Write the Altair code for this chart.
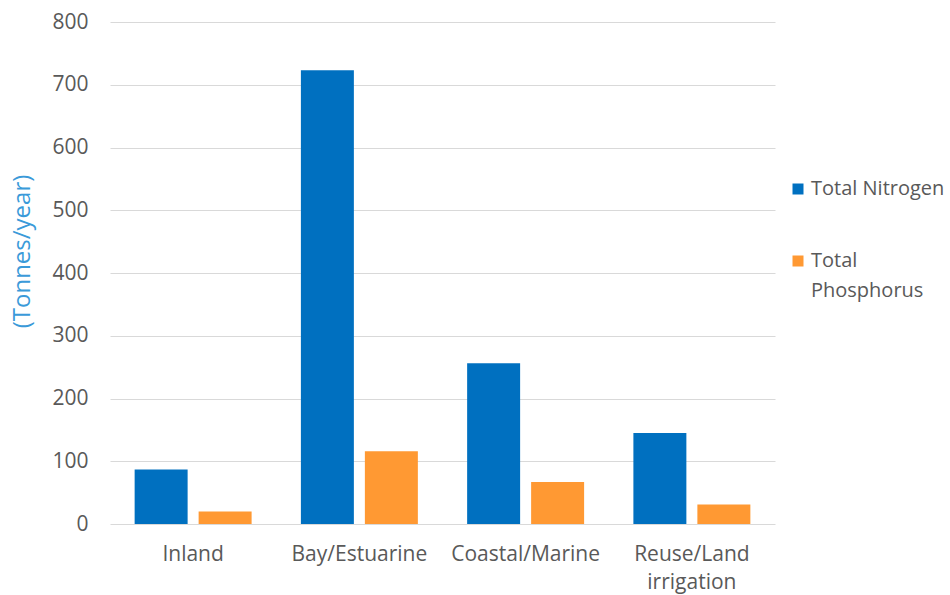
import altair as alt
import pandas as pd

# Annual nutrient loads by discharge destination
regions = ["Inland", "Bay/Estuarine", "Coastal/Marine", "Reuse/Land irrigation"]
nitrogen = [87, 723, 256, 145]
phosphorus = [20, 116, 67, 31]
series = ["Total Nitrogen", "Total Phosphorus"]
colors = ["#0070C0", "#FF9933"]
y_ticks = [0, 100, 200, 300, 400, 500, 600, 700, 800]

rows = []
for region, n, p in zip(regions, nitrogen, phosphorus):
    rows.append({"region": region, "series": series[0], "value": n})
    rows.append({"region": region, "series": series[1], "value": p})
df = pd.DataFrame(rows)

FONT = "Open Sans"
GREY = "#595959"
SIZE = 21

chart = (
    alt.Chart(df)
    .mark_bar()
    .encode(
        x=alt.X(
            "region:N",
            sort=regions,
            scale=alt.Scale(paddingInner=0, paddingOuter=0),
            axis=alt.Axis(
                title=None,
                labelAngle=0,
                domain=False,
                ticks=False,
                labelExpr="split(datum.label, ' ')",
                labelPadding=19,
                labelLineHeight=28,
                labelFontSize=SIZE,
                labelColor=GREY,
                labelFont=FONT,
            ),
        ),
        xOffset=alt.XOffset(
            "series:N",
            sort=series,
            scale=alt.Scale(paddingInner=0.172, paddingOuter=0.385),
        ),
        y=alt.Y(
            "value:Q",
            scale=alt.Scale(domain=[0, 800], nice=False),
            axis=alt.Axis(
                values=y_ticks,
                title="(Tonnes/year)",
                titleColor="#3A9AD9",
                titleFont=FONT,
                titleFontSize=24,
                titleFontWeight="normal",
                titleX=-88,
                titleY=229,
                titleBaseline="middle",
                domain=False,
                ticks=False,
                labelPadding=22,
                labelFontSize=SIZE,
                labelColor=GREY,
                labelFont=FONT,
                gridColor="#D9D9D9",
                gridWidth=1,
            ),
        ),
        color=alt.Color(
            "series:N",
            sort=series,
            scale=alt.Scale(domain=series, range=colors),
            legend=alt.Legend(
                title=None,
                orient="none",
                legendX=678,
                legendY=157,
                symbolType="square",
                symbolSize=121,
                symbolStrokeWidth=0,
                labelOffset=3,
                labelFont=FONT,
                labelFontSize=20,
                labelColor=GREY,
                labelLimit=200,
                rowPadding=52,
                labelExpr="datum.label == 'Total Phosphorus' ? ['Total', 'Phosphorus'] : datum.label",
            ),
        ),
    )
    .properties(
        width=665,
        height=502,
        padding={"left": 110, "top": 22, "right": 175, "bottom": 71},
        autosize=alt.AutoSizeParams(type="none"),
    )
    .configure(style={"guide-label": {"lineHeight": 30}})
    .configure_view(stroke=None)
)

chart.save("out.html", embed_options={"renderer": "svg", "actions": False})
